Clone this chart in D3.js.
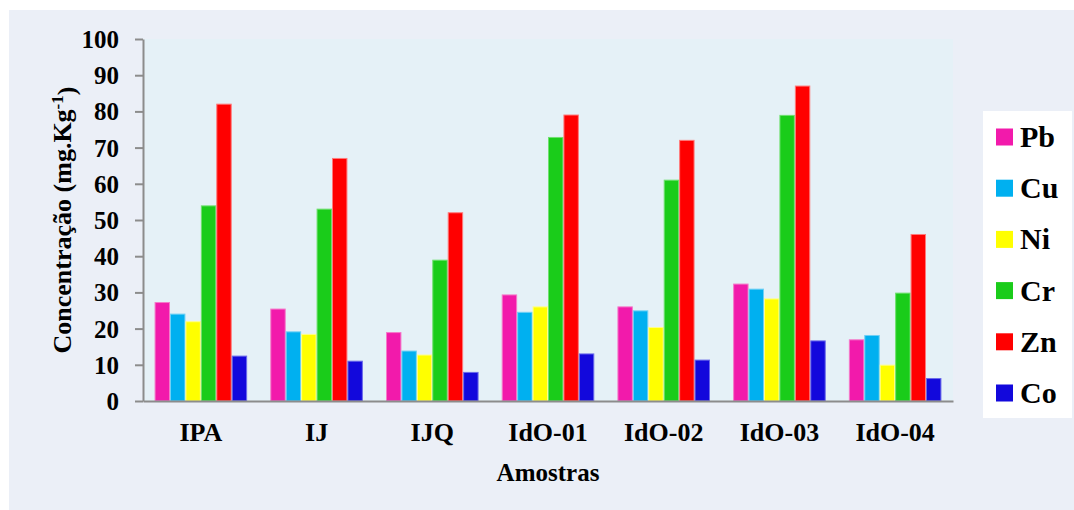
<!DOCTYPE html>
<html>
<head>
<meta charset="utf-8">
<script src="https://cdn.jsdelivr.net/npm/d3@7"></script>
<style>
  html, body { margin: 0; padding: 0; background: #ffffff; }
  svg { display: block; }
  text { font-family: "Liberation Serif", "Times New Roman", serif; font-weight: bold; fill: #000; }
</style>
</head>
<body>
<svg id="chart" width="1074" height="510"></svg>
<script>
// Sample sites and metals
const samples = ["IPA", "IJ", "IJQ", "IdO-01", "IdO-02", "IdO-03", "IdO-04"];
const metals = ["Pb", "Cu", "Ni", "Cr", "Zn", "Co"];

// Concentrations (mg.Kg-1) per metal, in sample order
const pb = [27.2, 25.4, 18.9, 29.3, 26.0, 32.3, 16.9];
const cu = [24.0, 19.1, 13.8, 24.5, 24.9, 30.9, 18.1];
const ni = [21.9, 18.4, 12.7, 26.0, 20.3, 28.2, 9.9];
const cr = [53.9, 53.0, 38.9, 72.8, 61.0, 78.9, 29.8];
const zn = [82.0, 67.0, 52.0, 79.0, 72.0, 87.0, 46.0];
const co = [12.4, 11.0, 7.9, 13.0, 11.3, 16.6, 6.2];

const yTicks = [0, 10, 20, 30, 40, 50, 60, 70, 80, 90, 100];
const colors = ["#f21aab", "#00b0f0", "#ffff00", "#1acc1a", "#ff0000", "#1208dc"];
const edges = ["#f57ac9", "#6fd0f5", "#ffff88", "#6fe06f", "#ff7a7a", "#6a6aea"];

const series = [pb, cu, ni, cr, zn, co];

const svg = d3.select("#chart");

// Outer panel
svg.append("rect").attr("x", 9).attr("y", 10).attr("width", 1065).attr("height", 500)
  .attr("fill", "#ebeff7");

const plot = { left: 143, right: 953, top: 39, bottom: 401 };

svg.append("rect")
  .attr("x", plot.left).attr("y", plot.top)
  .attr("width", plot.right - plot.left).attr("height", plot.bottom - plot.top)
  .attr("fill", "#e5f1f7");

const x0 = d3.scaleBand().domain(samples).range([plot.left, plot.right]).paddingInner(0.2).paddingOuter(0.1);
const x1 = d3.scaleBand().domain(metals).range([0, x0.bandwidth()]);
const y = d3.scaleLinear().domain([0, 100]).range([plot.bottom, plot.top]);

// Bars
metals.forEach((m, i) => {
  svg.append("g").selectAll("rect")
    .data(series[i])
    .join("rect")
    .attr("x", (d, j) => x0(samples[j]) + x1(m) + 0.5)
    .attr("y", d => y(d))
    .attr("width", x1.bandwidth() - 1)
    .attr("height", d => y(0) - y(d))
    .attr("fill", colors[i])
    .attr("stroke", edges[i])
    .attr("stroke-width", 1);
});

// Y axis
const yAxis = svg.append("g")
  .attr("transform", `translate(${plot.left},0)`)
  .call(d3.axisLeft(y).tickValues(yTicks).tickSize(8).tickPadding(16).tickSizeOuter(0));
yAxis.selectAll("line").attr("stroke", "#8c8c8c").attr("stroke-width", 2);
yAxis.select(".domain").attr("stroke", "#8c8c8c").attr("stroke-width", 2);
yAxis.selectAll("text").style("font-size", "25px").style("font-family", "Liberation Serif, serif")
  .style("font-weight", "bold").attr("dy", "0.34em");

// X axis (baseline + category labels)
const xAxis = svg.append("g")
  .attr("transform", `translate(0,${plot.bottom})`)
  .call(d3.axisBottom(x0).tickSize(0).tickPadding(22).tickSizeOuter(0));
xAxis.select(".domain").attr("stroke", "#8c8c8c").attr("stroke-width", 2);
xAxis.selectAll("text").style("font-size", "26px").style("font-family", "Liberation Serif, serif")
  .style("font-weight", "bold");

// Axis titles
svg.append("text")
  .attr("x", 548).attr("y", 481)
  .attr("text-anchor", "middle")
  .style("font-size", "25px")
  .text("Amostras");

const yt = svg.append("text")
  .attr("transform", "translate(71,220) rotate(-90)")
  .attr("text-anchor", "middle")
  .style("font-size", "26px");
yt.append("tspan").text("Concentração (mg.Kg");
yt.append("tspan").attr("dy", "-0.45em").style("font-size", "17px").text("-1");
yt.append("tspan").attr("dy", "0.45em").text(")");

// Legend
svg.append("rect").attr("x", 983).attr("y", 111).attr("width", 89).attr("height", 307)
  .attr("fill", "#ffffff");
const lg = svg.append("g").selectAll("g").data(metals).join("g")
  .attr("transform", (d, i) => `translate(996,${137 + i * 51.2})`);
lg.append("rect").attr("x", 0).attr("y", -8.5).attr("width", 17).attr("height", 17)
  .attr("fill", (d, i) => colors[i]);
lg.append("text").attr("x", 24).attr("y", 10).style("font-size", "30px").text(d => d);
</script>
</body>
</html>
